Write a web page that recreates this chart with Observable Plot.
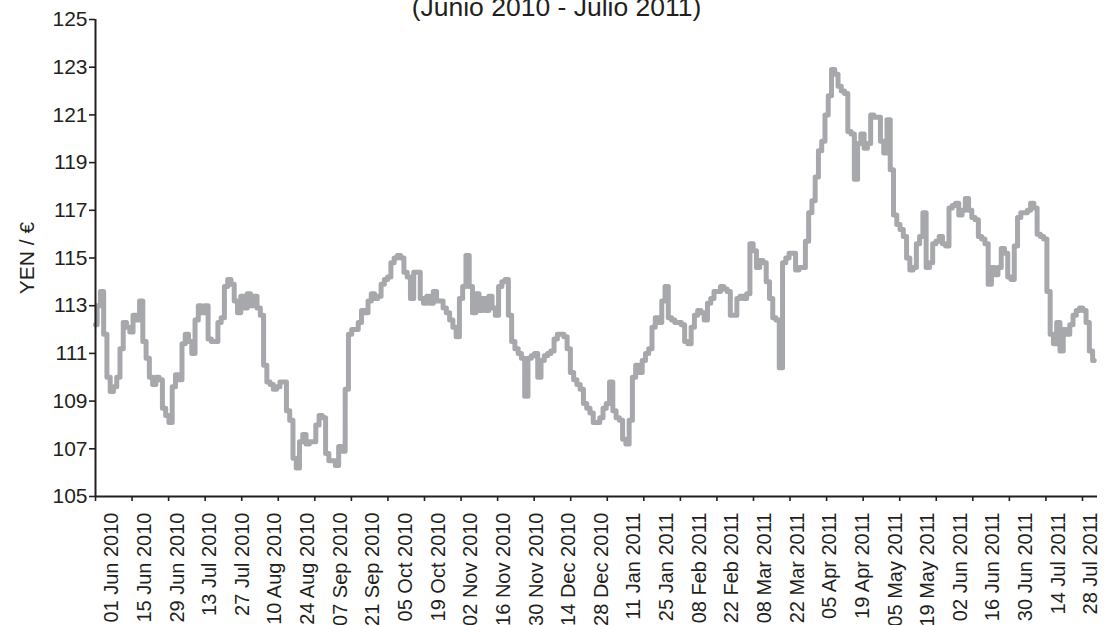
<!DOCTYPE html>
<html>
<head>
<meta charset="utf-8">
<script src="https://cdn.jsdelivr.net/npm/d3@7"></script>
<script src="https://cdn.jsdelivr.net/npm/@observablehq/plot@0.6"></script>
<style>
  html, body { margin: 0; padding: 0; background: #fff; overflow: hidden; }
  #wrap { position: relative; width: 1105px; height: 625px; }
  #title { position: absolute; left: 4px; top: -6px; width: 1105px; text-align: center;
           font-family: "Liberation Sans", Arial, sans-serif; font-size: 26.5px; line-height: 1; color: #231f20; }
</style>
</head>
<body>
<div id="wrap"><div id="title">(Junio 2010 - Julio 2011)</div></div>
<script>
// Daily YEN per EUR (trading days)
const values = [
112.2,113.0,113.6,111.8,110.0,109.4,109.6,110.0,111.2,112.3,
112.1,111.9,112.6,112.4,113.2,111.5,110.8,110.0,109.7,110.0,
109.9,108.7,108.4,108.1,109.6,110.1,109.9,111.4,111.8,111.5,
111.0,112.4,113.0,112.7,113.0,111.6,111.5,111.5,112.3,112.5,
113.8,114.1,113.9,113.2,112.7,113.4,112.9,113.5,113.0,113.4,
112.9,112.6,110.5,109.8,109.7,109.5,109.6,109.8,109.8,108.6,
108.2,106.6,106.2,107.3,107.6,107.2,107.3,107.3,108.0,108.4,
108.3,106.8,106.5,106.5,106.3,107.1,106.9,109.5,111.8,112.0,
112.0,112.3,112.8,112.7,113.2,113.5,113.3,113.4,113.9,114.1,
114.2,114.8,115.0,115.1,115.0,114.4,114.2,113.3,114.4,114.4,
113.3,113.1,113.4,113.1,113.6,113.2,113.2,112.9,112.7,112.4,
112.1,111.7,113.3,113.8,115.1,113.8,112.7,113.5,112.8,113.3,
112.8,113.4,112.9,112.6,113.8,114.0,114.1,112.6,111.5,111.2,
111.0,110.8,109.2,110.8,110.9,111.0,110.0,110.7,110.9,111.0,
111.1,111.6,111.8,111.8,111.7,111.2,110.2,109.9,109.7,109.5,
108.9,108.7,108.5,108.1,108.1,108.3,108.7,108.9,109.8,108.6,
108.3,108.2,107.4,107.2,108.2,110.0,110.5,110.2,110.7,111.0,
111.2,112.1,112.5,112.3,113.2,113.8,112.5,112.4,112.3,112.3,
112.2,111.5,111.4,112.1,112.6,112.8,112.7,112.4,113.1,113.3,
113.6,113.6,113.8,113.7,113.6,112.6,112.6,113.3,113.4,113.3,
113.5,115.6,115.3,114.6,114.9,114.8,114.0,113.3,112.5,112.4,
110.4,114.8,115.0,115.2,115.2,114.5,114.6,114.6,115.7,116.9,
117.4,118.4,119.5,119.9,121.0,121.8,122.9,122.7,122.2,122.0,
121.9,120.3,120.2,118.3,119.8,120.2,119.6,119.8,121.0,120.9,
120.9,119.9,119.4,120.8,118.7,116.8,116.4,116.2,115.9,115.0,
114.5,114.6,115.6,115.9,116.9,114.6,114.8,115.6,115.7,115.9,
115.6,115.5,117.1,117.2,117.3,116.8,117.0,117.5,117.0,116.7,
116.6,115.9,115.8,115.6,113.9,114.6,114.3,114.6,115.4,115.2,
114.2,114.1,115.5,116.7,116.9,116.9,117.0,117.3,117.1,116.0,
115.9,115.8,113.6,111.8,111.4,112.3,111.1,112.0,111.8,112.2,
112.6,112.8,112.9,112.8,112.3,111.1,110.7
];

// x tick labels (every 10 trading days) and the trading-day index they sit on
const dateLabels = [
"01 Jun 2010","15 Jun 2010","29 Jun 2010","13 Jul 2010","27 Jul 2010","10 Aug 2010",
"24 Aug 2010","07 Sep 2010","21 Sep 2010","05 Oct 2010","19 Oct 2010","02 Nov 2010",
"16 Nov 2010","30 Nov 2010","14 Dec 2010","28 Dec 2010","11 Jan 2011","25 Jan 2011",
"08 Feb 2011","22 Feb 2011","08 Mar 2011","22 Mar 2011","05 Apr 2011","19 Apr 2011",
"05 May 2011","19 May 2011","02 Jun 2011","16 Jun 2011","30 Jun 2011","14 Jul 2011",
"28 Jul 2011"
];
const firstLabelIndex = 5;
const labelStep = 10;
const labelIndex = dateLabels.map((_, k) => firstLabelIndex + k * labelStep);

const yTicks = [105,107,109,111,113,115,117,119,121,123,125];
const tickStep = 11.2;
const xTickMarks = d3.range(0, 303, tickStep);

const data = values.map((v, i) => ({i, v}));
const ink = "#231f20";

const chart = Plot.plot({
  width: 1105,
  height: 625,
  marginLeft: 95,
  marginRight: 8,
  marginTop: 19,
  marginBottom: 129,
  style: {fontFamily: "'Liberation Sans', Arial, sans-serif", fontSize: "20px", color: ink, background: "#fff"},
  x: {type: "linear", domain: [0, values.length]},
  y: {domain: [105, 125]},
  marks: [
    Plot.line(data, {x: "i", y: "v", stroke: "#a6a8ab", strokeWidth: 5, curve: "step"}),
    Plot.ruleX([0], {stroke: ink, strokeWidth: 2}),
    Plot.ruleY([105], {stroke: ink, strokeWidth: 2}),
    Plot.axisY({ticks: yTicks, tickSize: 6, tickPadding: 2, strokeWidth: 1.6, stroke: ink, fontSize: 21,
      label: "YEN / €", labelAnchor: "center", labelArrow: "none", labelOffset: 76}),
    Plot.axisX({ticks: xTickMarks, tickSize: 5, strokeWidth: 1.6, stroke: ink, tickFormat: () => "", label: null}),
    Plot.axisX({ticks: labelIndex, tickSize: 0, tickPadding: 16, tickRotate: -90,
      tickFormat: (d) => dateLabels[labelIndex.indexOf(d)], label: null})
  ]
});
document.getElementById("wrap").prepend(chart);
</script>
</body>
</html>
